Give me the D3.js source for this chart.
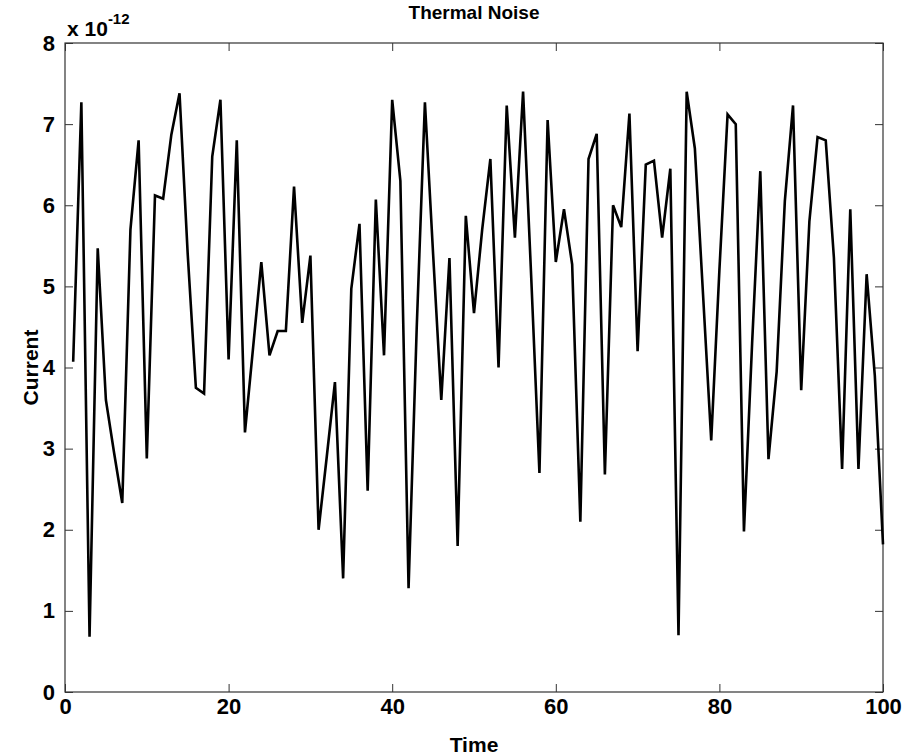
<!DOCTYPE html>
<html>
<head>
<meta charset="utf-8">
<script src="https://cdn.jsdelivr.net/npm/d3@7"></script>
<style>
    body { margin: 0; background: #fff; }
    svg text { font-family: "Liberation Sans", Arial, sans-serif; font-weight: bold; fill: #000; }
</style>
</head>
<body>
<svg id="chart" width="906" height="756"></svg>
<script>
// Current values, in units of 1e-12
const time = d3.range(1, 101);
const current = [
    4.07, 7.27, 0.68, 5.47, 3.60, 2.95, 2.33, 5.70, 6.80, 2.88,
    6.12, 6.08, 6.87, 7.38, 5.40, 3.75, 3.68, 6.60, 7.30, 4.10,
    6.80, 3.20, 4.25, 5.30, 4.15, 4.45, 4.45, 6.23, 4.55, 5.38,
    2.00, 2.90, 3.82, 1.40, 4.97, 5.77, 2.48, 6.07, 4.15, 7.30,
    6.30, 1.28, 4.50, 7.27, 5.40, 3.60, 5.35, 1.80, 5.87, 4.67,
    5.70, 6.57, 4.00, 7.23, 5.60, 7.40, 5.10, 2.70, 7.05, 5.30,
    5.95, 5.27, 2.10, 6.57, 6.88, 2.68, 6.00, 5.73, 7.13, 4.20,
    6.50, 6.55, 5.60, 6.45, 0.70, 7.40, 6.70, 4.90, 3.10, 5.20,
    7.12, 7.00, 1.98, 4.30, 6.42, 2.87, 3.95, 6.05, 7.23, 3.72,
    5.80, 6.84, 6.80, 5.35, 2.75, 5.95, 2.75, 5.15, 3.90, 1.82
];
const xTicks = [0, 20, 40, 60, 80, 100];
const yTicks = [0, 1, 2, 3, 4, 5, 6, 7, 8];
const exponent = "-12";

const svg = d3.select("#chart");
const margin = {left: 65, right: 23, top: 43, bottom: 64};
const width = 906 - margin.left - margin.right;
const height = 756 - margin.top - margin.bottom;

const x = d3.scaleLinear().domain([0, 100]).range([0, width]);
const y = d3.scaleLinear().domain([0, 8]).range([height, 0]);

const g = svg.append("g").attr("transform", `translate(${margin.left},${margin.top})`);

// Box round the plot area
g.append("rect")
    .attr("width", width)
    .attr("height", height)
    .attr("fill", "none")
    .attr("stroke", "#333")
    .attr("stroke-width", 1.2);

// Inward ticks on all four sides
const tickLen = 8;
function styleAxis(sel) {
    sel.select(".domain").remove();
    sel.selectAll(".tick line").attr("stroke", "#333").attr("stroke-width", 1);
    sel.selectAll(".tick text").attr("font-size", "22px");
}

g.append("g")
    .attr("transform", `translate(0,${height})`)
    .call(d3.axisBottom(x).tickValues(xTicks).tickSizeInner(-tickLen).tickPadding(6))
    .call(styleAxis);
g.append("g")
    .call(d3.axisTop(x).tickValues(xTicks).tickSizeInner(-tickLen).tickFormat(""))
    .call(styleAxis);
g.append("g")
    .call(d3.axisLeft(y).tickValues(yTicks).tickSizeInner(-tickLen).tickPadding(10))
    .call(styleAxis);
g.append("g")
    .attr("transform", `translate(${width},0)`)
    .call(d3.axisRight(y).tickValues(yTicks).tickSizeInner(-tickLen).tickFormat(""))
    .call(styleAxis);

// The noise trace
const line = d3.line()
    .x((d, i) => x(time[i]))
    .y(d => y(d));

g.append("path")
    .datum(current)
    .attr("d", line)
    .attr("fill", "none")
    .attr("stroke", "#000")
    .attr("stroke-width", 2.6)
    .attr("stroke-linejoin", "miter");

// Exponent label above the y axis
const expLabel = svg.append("text")
    .attr("x", margin.left + 2)
    .attr("y", 36)
    .attr("font-size", "21px");
expLabel.append("tspan").text("x 10");
expLabel.append("tspan")
    .attr("dy", -12)
    .attr("font-size", "15px")
    .text(exponent);

// Title and axis labels
svg.append("text")
    .attr("x", margin.left + width / 2)
    .attr("y", 19)
    .attr("text-anchor", "middle")
    .attr("font-size", "19px")
    .text("Thermal Noise");

svg.append("text")
    .attr("x", margin.left + width / 2)
    .attr("y", 752)
    .attr("text-anchor", "middle")
    .attr("font-size", "21px")
    .text("Time");

svg.append("text")
    .attr("transform", `translate(38,${margin.top + height / 2}) rotate(-90)`)
    .attr("text-anchor", "middle")
    .attr("font-size", "21px")
    .text("Current");
</script>
</body>
</html>
